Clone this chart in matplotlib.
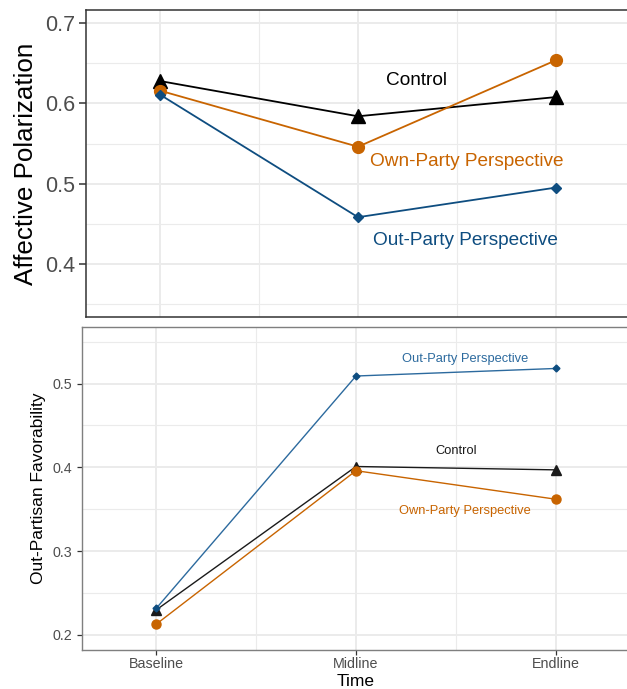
"""
Affective polarization and out-partisan favorability over time,
by treatment condition (two stacked panels).
"""

import matplotlib.pyplot as plt

plt.rcParams['font.family'] = ['Liberation Sans', 'DejaVu Sans']

# ---- data ----
tiempos = ['Baseline', 'Midline', 'Endline']
x_pos = [1, 2, 3]

ap_control = [0.628, 0.584, 0.608]
ap_own = [0.616, 0.546, 0.654]
ap_out = [0.611, 0.458, 0.495]

fav_control = [0.230, 0.401, 0.397]
fav_own = [0.213, 0.396, 0.362]
fav_out = [0.232, 0.509, 0.518]

C_CONTROL = 'black'
C_OWN = '#C86400'
C_OUT = '#0E4D80'
C_OUT_LIGHT = '#2C6A9E'
GRID = '#EBEBEB'

fig = plt.figure(figsize=(6.27, 6.89), dpi=100)
W, H = 627, 689


def px_axes(l, t, r, b):
    return fig.add_axes([l / W, 1 - b / H, (r - l) / W, (b - t) / H])


def estilo(ax, tick_color='#4D4D4D', spine_color='#333333', lw=1.1):
    ax.set_facecolor('white')
    for s in ax.spines.values():
        s.set_color(spine_color)
        s.set_linewidth(lw)
    ax.grid(True, which='major', color=GRID, linewidth=1.4, zorder=0)
    ax.grid(True, which='minor', color=GRID, linewidth=0.8, zorder=0)
    ax.set_axisbelow(True)
    ax.tick_params(which='minor', length=0)
    ax.tick_params(axis='both', colors='#333333', labelcolor=tick_color)


# ========== panel superior ==========
ax1 = px_axes(86, 10, 630, 317)
estilo(ax1)
ax1.plot(x_pos, ap_control, '-', color=C_CONTROL, lw=1.3, marker='^', ms=9.5, zorder=3)
ax1.plot(x_pos, ap_own, '-', color=C_OWN, lw=1.3, marker='o', ms=8.5, zorder=4)
ax1.plot(x_pos, ap_out, '-', color=C_OUT, lw=1.3, marker='D', ms=5.5, zorder=5)
ax1.set_xlim(0.626, 3.374)
ax1.set_ylim(0.3334, 0.7167)
ax1.set_yticks([0.4, 0.5, 0.6, 0.7])
ax1.set_yticks([0.35, 0.45, 0.55, 0.65], minor=True)
ax1.set_xticks(x_pos)
ax1.set_xticks([1.5, 2.5], minor=True)
ax1.tick_params(axis='x', length=0, labelbottom=False)
ax1.tick_params(axis='y', labelsize=15.5, length=5, width=1.1, pad=3)
ax1.set_ylabel('Affective Polarization', fontsize=18.7, color='black', labelpad=5)

ax1.text(2.296, 0.629, 'Control', ha='center', va='center', fontsize=13.7, color=C_CONTROL)
ax1.text(2.549, 0.528, 'Own-Party Perspective', ha='center', va='center', fontsize=13.7, color=C_OWN)
ax1.text(2.544, 0.429, 'Out-Party Perspective', ha='center', va='center', fontsize=13.7, color=C_OUT)

# ========== panel inferior ==========
ax2 = px_axes(82, 327, 630, 650)
estilo(ax2, spine_color='#7F7F7F', lw=1.0)
ax2.plot(x_pos, fav_control, '-', color='#1A1A1A', lw=1.0, marker='^', ms=7, zorder=3)
ax2.plot(x_pos, fav_own, '-', color=C_OWN, lw=1.0, marker='o', ms=6.5, zorder=4)
ax2.plot(x_pos, fav_out, '-', color=C_OUT_LIGHT, lw=1.0, zorder=5)
ax2.plot(x_pos, fav_out, ls='none', color=C_OUT, marker='D', ms=3.5, zorder=6)
ax2.set_xlim(0.627, 3.373)
ax2.set_ylim(0.182, 0.5675)
ax2.set_yticks([0.2, 0.3, 0.4, 0.5])
ax2.set_yticks([0.25, 0.35, 0.45, 0.55], minor=True)
ax2.set_xticks(x_pos)
ax2.set_xticklabels(tiempos)
ax2.set_xticks([1.5, 2.5], minor=True)
ax2.tick_params(axis='both', labelsize=10.3, length=3.5, width=0.9)
ax2.tick_params(axis='x', pad=1.5)
ax2.set_ylabel('Out-Partisan Favorability', fontsize=12.5, color='black', labelpad=5)
ax2.set_xlabel('Time', fontsize=12.5, color='black', va='center')
# centro de "Time" hacia y = 682 px
ax2.xaxis.set_label_coords(0.5, (650 - 682) / 323)

ax2.text(2.548, 0.529, 'Out-Party Perspective', ha='center', va='center', fontsize=9.3, color=C_OUT_LIGHT)
ax2.text(2.502, 0.4197, 'Control', ha='center', va='center', fontsize=9.3, color='#1A1A1A')
ax2.text(2.548, 0.348, 'Own-Party Perspective', ha='center', va='center', fontsize=9.3, color=C_OWN)

fig.savefig('out.png', dpi=100, facecolor='white')
